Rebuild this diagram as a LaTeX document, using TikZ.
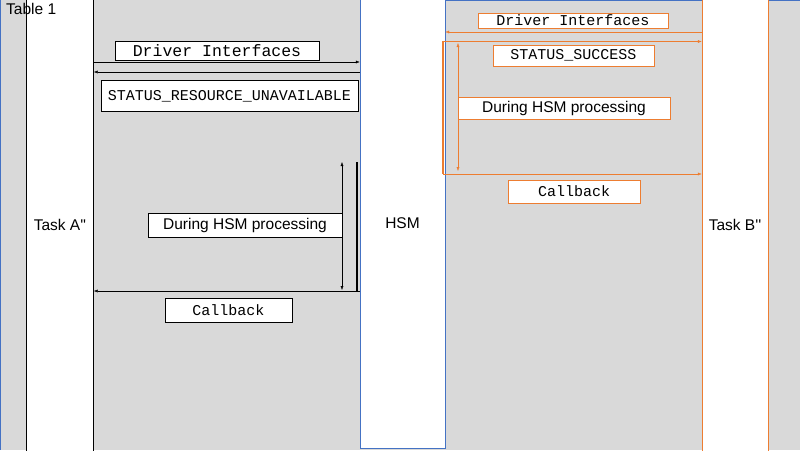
\documentclass[tikz,border=0pt]{standalone}
\usepackage{fontspec}
\setmainfont{Liberation Sans}
\setmonofont{Liberation Mono}
\usepackage{tikz}
\usetikzlibrary{arrows.meta}
\definecolor{cellgray}{HTML}{D9D9D9}
\definecolor{xlblue}{HTML}{4472C4}
\definecolor{xlorange}{HTML}{ED7D31}

\begin{document}
\begin{tikzpicture}[
    x=1pt, y=-1pt,
    lane/.style={rectangle, fill=white, minimum width=#1, minimum height=452pt, inner sep=0pt, font=\fontsize{15.5}{17}\selectfont},
    lbl/.style={rectangle, draw, fill=white, inner sep=0pt, font=\fontsize{15}{17}\selectfont\ttfamily},
    note/.style={lbl, font=\fontsize{15.5}{17}\selectfont},
    olbl/.style={lbl, draw=xlorange},
    onote/.style={note, draw=xlorange},
    msg/.style={-{Latex[length=4pt,width=3pt]}},
    both/.style={{Latex[length=4pt,width=3pt]}-{Latex[length=4pt,width=3pt]}}
  ]
  \useasboundingbox (0,0) rectangle (800,450);
  \fill[cellgray] (0,0) rectangle (800,450);
  \draw[xlblue] (0.5,0) -- (0.5,450);
  \draw[xlblue] (445,0.5) -- (800,0.5);

  % lanes
  \node[lane=67pt, draw=black] (taskA) at (60,225) {Task A\textquotesingle\textquotesingle};
  \node[lane=85pt, draw=xlblue, minimum height=450pt] (hsm) at (402.5,223) {HSM};
  \node[lane=66pt, draw=xlorange] (taskB) at (735,225) {Task B\textquotesingle\textquotesingle};
  \node[anchor=north west, inner sep=0pt, font=\fontsize{15.5}{17}\selectfont] (title) at (6,3) {Table 1};

  % Task A side
  \node[lbl, minimum width=204pt, minimum height=19pt, font=\fontsize{16.5}{18}\selectfont\ttfamily] (drvA) at (217,50.5) {Driver Interfaces};
  \draw[msg] (taskA.east |- 0,62) -- (hsm.west |- 0,62);
  \draw[msg] (hsm.west |- 0,72) -- (taskA.east |- 0,72);
  \node[lbl, minimum width=257pt, minimum height=31pt] (errA) at (229.5,96) {STATUS\_RESOURCE\_UNAVAILABLE};
  \coordinate (busyA1) at (342,162);
  \coordinate (busyA2) at (342,290);
  \draw[both] (busyA1) -- (busyA2);
  \draw[line width=2pt] (357,162) -- (357,291);
  \node[note, minimum width=194pt, minimum height=24pt] (busyA) at (245,225) {During HSM processing};
  \draw[msg] (hsm.west |- 0,291) -- (taskA.east |- 0,291);
  \node[lbl, minimum width=127pt, minimum height=24pt] (cbA) at (228.5,310) {Callback};

  % Task B side
  \node[olbl, minimum width=190pt, minimum height=15pt] (drvB) at (573,20.5) {Driver Interfaces};
  \draw[msg, xlorange] (taskB.west |- 0,32) -- (hsm.east |- 0,32);
  \draw[msg, xlorange] (443,41.5) -- (taskB.west |- 0,41.5);
  \draw[xlorange, line width=1.5pt] (443,41) -- (443,174);
  \node[olbl, minimum width=161pt, minimum height=21pt] (okB) at (573.5,55.5) {STATUS\_SUCCESS};
  \coordinate (busyB1) at (458,43);
  \coordinate (busyB2) at (458,171);
  \draw[both, xlorange] (busyB1) -- (busyB2);
  \node[onote, minimum width=212pt, minimum height=22pt] (busyB) at (564,108) {During HSM processing};
  \draw[msg, xlorange] (443,174) -- (taskB.west |- 0,174);
  \node[olbl, minimum width=132pt, minimum height=23pt] (cbB) at (574,191.5) {Callback};
\end{tikzpicture}
\end{document}
